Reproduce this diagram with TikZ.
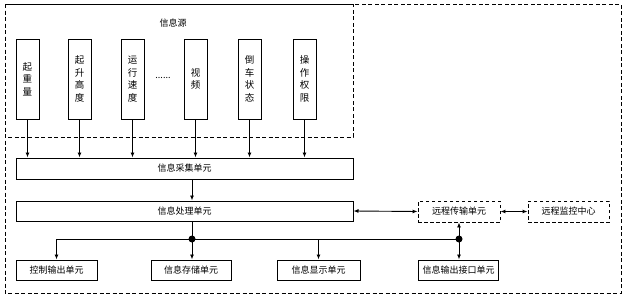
\documentclass[tikz,border=0pt]{standalone}
\usepackage{fontspec}
\setmainfont{Noto Sans CJK SC}
\usetikzlibrary{arrows.meta,calc}
\begin{document}
\begin{tikzpicture}[x=1pt,y=-1pt,
  box/.style={draw=black,line width=1pt,rectangle,inner sep=0pt,font=\fontsize{9}{11}\selectfont},
  vbox/.style={box,minimum width=23pt,minimum height=80pt,align=center,font=\fontsize{9.5}{12.5}\selectfont},
  hbox/.style={box,minimum height=20pt},
  dbox/.style={draw=black,line width=0.9pt,dash pattern=on 3.5pt off 2.5pt,rectangle,inner sep=0pt,minimum height=21pt,font=\fontsize{9}{11}\selectfont},
  frame/.style={draw=black,line width=0.9pt,dash pattern=on 4pt off 2.5pt},
  conn/.style={line width=0.9pt,-{Latex[length=5pt,width=4pt]}},
  dconn/.style={line width=0.9pt,{Latex[length=5pt,width=4pt]}-{Latex[length=5pt,width=4pt]}},
  dot/.style={circle,fill=black,inner sep=0pt,minimum size=7pt}]
\useasboundingbox (0,0) rectangle (627,300);
\fill[white] (0,0) rectangle (627,300);
% frames
\draw[frame] (5,4) rectangle (621,293);
\draw[frame] (5,4) rectangle (353,137);
\node[font=\fontsize{9}{11}\selectfont] (src) at (173,23) {信息源};
% source boxes
\node[vbox] (s1) at (27.5,79) {起\\重\\量};
\node[vbox] (s2) at (79.5,79) {起\\升\\高\\度};
\node[vbox] (s3) at (132.5,79) {运\\行\\速\\度};
\node[font=\fontsize{9}{11}\selectfont] (dots) at (163,78) {......};
\node[vbox] (s4) at (195.5,79) {视\\频};
\node[vbox] (s5) at (249.5,79) {倒\\车\\状\\态};
\node[vbox] (s6) at (304.5,79) {操\\作\\权\\限};
% main boxes
\node[box,minimum width=337pt,minimum height=21pt] (col) at (184.5,168.5) {信息采集单元};
\node[box,minimum width=337pt,minimum height=20pt] (proc) at (184.5,211) {信息处理单元};
\foreach \i in {1,...,6} \draw[conn] (s\i.south) -- (s\i.south |- col.north);
% bottom boxes
\node[hbox,minimum width=81pt] (ctrl) at (56.5,270) {控制输出单元};
\node[hbox,minimum width=80pt] (store) at (191,270) {信息存储单元};
\node[hbox,minimum width=83pt] (disp) at (318.5,270) {信息显示单元};
\node[hbox,minimum width=80pt] (outif) at (458.5,270) {信息输出接口单元};
\node[dbox,minimum width=82pt] (trans) at (459,211.5) {远程传输单元};
\node[dbox,minimum width=81pt] (mon) at (568.5,211.5) {远程监控中心};
% bus
\node[dot] (d1) at (192,239) {};
\node[dot] (d2) at (459,239) {};
\draw[conn] (col.south -| d1) -- (proc.north -| d1);
\draw[line width=0.9pt] (proc.south -| d1) -- (d1.center);
\draw[line width=0.9pt] (d1.center -| ctrl) -- (d2.center);
\draw[conn] (d1.center -| ctrl) -- (ctrl.north);
\draw[conn] (d1.center) -- (store.north -| d1);
\draw[conn] (d1.center -| disp) -- (disp.north);
\draw[conn] (d2.center) -- (trans.south -| d2);
\draw[conn] (d2.center) -- (outif.north -| d2);
\draw[dconn] (proc.east) -- (trans.west);
\draw[dconn] (trans.east) -- (mon.west);
\end{tikzpicture}
\end{document}
